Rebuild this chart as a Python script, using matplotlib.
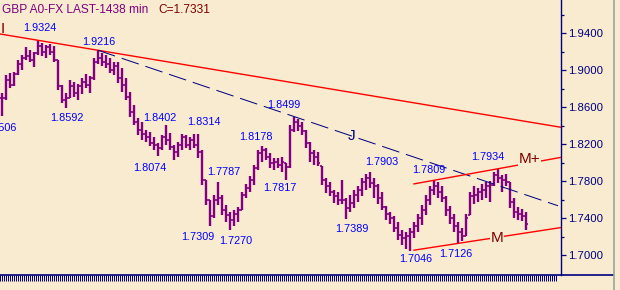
import matplotlib
matplotlib.use("Agg")
import matplotlib.pyplot as plt
import numpy as np
from matplotlib.ticker import FixedLocator, FormatStrFormatter, NullLocator
from matplotlib.lines import Line2D

plt.rcParams['font.family'] = ['Liberation Sans', 'DejaVu Sans']

BG = '#F8EBD0'
PURPLE = '#800080'
NAVY = '#000080'
BLUE = '#0000FF'
RED = '#FF0000'
DARKRED = '#800000'

# 1438-min GBP bars (high / low / close)
highs = [1.875, 1.895, 1.897, 1.898, 1.911, 1.916, 1.925, 1.922, 1.920, 1.9324,
         1.930, 1.927, 1.928, 1.926, 1.911, 1.884, 1.875, 1.889, 1.887, 1.885,
         1.892, 1.896, 1.894, 1.913, 1.9216, 1.919, 1.916, 1.913, 1.909, 1.909,
         1.902, 1.892, 1.876, 1.862, 1.848, 1.844, 1.835, 1.833, 1.828, 1.821,
         1.830, 1.8402, 1.832, 1.819, 1.822, 1.831, 1.830, 1.828, 1.831, 1.8314,
         1.814, 1.781, 1.760, 1.765, 1.7787, 1.765, 1.754, 1.747, 1.749, 1.752,
         1.768, 1.777, 1.786, 1.797, 1.814, 1.8178, 1.816, 1.810, 1.805, 1.805,
         1.806, 1.800, 1.841, 1.8499, 1.847, 1.844, 1.835, 1.822, 1.814, 1.811,
         1.796, 1.783, 1.779, 1.770, 1.768, 1.781, 1.762, 1.765, 1.770, 1.775,
         1.783, 1.788, 1.7903, 1.783, 1.777, 1.768, 1.753, 1.747, 1.742, 1.736,
         1.727, 1.725, 1.729, 1.736, 1.744, 1.754, 1.765, 1.775, 1.7809, 1.779,
         1.775, 1.764, 1.753, 1.744, 1.736, 1.729, 1.744, 1.768, 1.775, 1.773,
         1.777, 1.779, 1.780, 1.790, 1.7934, 1.787, 1.788, 1.779, 1.762, 1.752,
         1.750, 1.747]

lows = [1.8506, 1.868, 1.881, 1.883, 1.895, 1.900, 1.911, 1.909, 1.903, 1.916,
        1.915, 1.913, 1.916, 1.909, 1.879, 1.865, 1.8592, 1.870, 1.871, 1.868,
        1.874, 1.881, 1.875, 1.889, 1.907, 1.905, 1.902, 1.897, 1.895, 1.886,
        1.876, 1.868, 1.849, 1.841, 1.830, 1.824, 1.822, 1.818, 1.814, 1.8074,
        1.814, 1.819, 1.814, 1.803, 1.806, 1.814, 1.816, 1.814, 1.816, 1.805,
        1.776, 1.754, 1.7309, 1.740, 1.754, 1.743, 1.736, 1.7270, 1.731, 1.736,
        1.749, 1.762, 1.768, 1.776, 1.792, 1.801, 1.803, 1.794, 1.792, 1.794,
        1.790, 1.7817, 1.794, 1.833, 1.834, 1.830, 1.816, 1.801, 1.797, 1.796,
        1.776, 1.767, 1.764, 1.756, 1.754, 1.755, 1.7389, 1.747, 1.751, 1.757,
        1.764, 1.770, 1.773, 1.762, 1.755, 1.749, 1.738, 1.734, 1.725, 1.716,
        1.711, 1.707, 1.7046, 1.718, 1.725, 1.732, 1.743, 1.754, 1.765, 1.762,
        1.757, 1.742, 1.734, 1.725, 1.7126, 1.715, 1.721, 1.743, 1.755, 1.757,
        1.760, 1.762, 1.757, 1.775, 1.778, 1.768, 1.775, 1.751, 1.740, 1.738,
        1.737, 1.727]

closes = [1.870, 1.889, 1.884, 1.896, 1.907, 1.913, 1.915, 1.911, 1.919, 1.926,
          1.920, 1.925, 1.920, 1.911, 1.883, 1.868, 1.870, 1.883, 1.875, 1.883,
          1.887, 1.884, 1.892, 1.909, 1.913, 1.909, 1.907, 1.900, 1.905, 1.892,
          1.884, 1.871, 1.855, 1.844, 1.835, 1.831, 1.828, 1.821, 1.819, 1.816,
          1.828, 1.824, 1.817, 1.811, 1.819, 1.828, 1.819, 1.824, 1.819, 1.811,
          1.781, 1.760, 1.742, 1.760, 1.762, 1.749, 1.743, 1.738, 1.744, 1.749,
          1.765, 1.773, 1.781, 1.794, 1.810, 1.814, 1.806, 1.800, 1.801, 1.797,
          1.801, 1.795, 1.835, 1.844, 1.840, 1.834, 1.821, 1.810, 1.806, 1.800,
          1.781, 1.775, 1.768, 1.764, 1.760, 1.760, 1.751, 1.756, 1.765, 1.770,
          1.779, 1.783, 1.778, 1.775, 1.762, 1.752, 1.744, 1.740, 1.729, 1.722,
          1.718, 1.721, 1.725, 1.731, 1.740, 1.749, 1.760, 1.770, 1.775, 1.768,
          1.762, 1.749, 1.740, 1.731, 1.725, 1.721, 1.740, 1.764, 1.765, 1.768,
          1.770, 1.775, 1.776, 1.787, 1.783, 1.781, 1.779, 1.757, 1.747, 1.744,
          1.742, 1.7331]

# swing labels: value text and where it sits (bar index, price)
swing_text = ['1.8506', '1.9324', '1.8592', '1.9216', '1.8402', '1.8074', '1.8314',
              '1.7309', '1.7787', '1.7270', '1.8178', '1.7817', '1.8499', '1.7389',
              '1.7903', '1.7046', '1.7809', '1.7126', '1.7934']
swing_x = [-0.6, 9.4, 16.1, 24.1, 39.5, 36.9, 50.5, 49.0, 55.5, 58.5, 63.5,
           69.4, 70.5, 87.5, 94.9, 103.4, 106.6, 113.4, 121.5]
swing_y = [1.8375, 1.9457, 1.8483, 1.9305, 1.8483, 1.7942, 1.8440, 1.7195,
           1.7898, 1.7152, 1.8277, 1.7725, 1.8624, 1.7282, 1.8007, 1.6957,
           1.7920, 1.7011, 1.8061]

# trend lines through two swing points
line_I = [(9, 1.9324), (24, 1.9216)]
line_J = [(24, 1.9216), (73, 1.8499)]
line_Mp = [(108, 1.7809), (124, 1.7934)]
line_M = [(102, 1.7046), (114, 1.7126)]

y_major = [1.70, 1.74, 1.78, 1.82, 1.86, 1.90, 1.94]
y_minor = [1.72, 1.76, 1.80, 1.84, 1.88, 1.92, 1.96]


def extend(pts, x0, x1):
    (xa, ya), (xb, yb) = pts
    k = (yb - ya) / (xb - xa)
    return [x0, x1], [ya + k * (x0 - xa), ya + k * (x1 - xa)]


fig = plt.figure(figsize=(6.2, 2.9), dpi=100)
fig.patch.set_facecolor(BG)
ax = fig.add_axes([0, 15 / 290, 561 / 620, 275 / 290])
ax.set_facecolor(BG)

x = np.arange(len(highs))
hi = np.array(highs)
lo = np.array(lows)
cl = np.array(closes)
op = np.clip(np.r_[cl[0], cl[:-1]], lo, hi)

ax.vlines(x, lo, hi, color=PURPLE, lw=1.7, zorder=2)
ax.hlines(op, x - 0.6, x, color=PURPLE, lw=1.2, zorder=2)
ax.hlines(cl, x, x + 0.6, color=PURPLE, lw=1.2, zorder=2)

XL, XR = -0.5, 139.75
lx, ly = extend(line_I, XL, XR)
ax.plot(lx, ly, color=RED, lw=1.0, zorder=3)
lx, ly = extend(line_J, 24, 139)
ax.plot(lx, ly, color=NAVY, lw=0.72, ls=(0, (18, 7)), zorder=3)
lx, ly = extend(line_Mp, 103, XR)
ax.plot(lx, ly, color=RED, lw=1.0, zorder=3)
lx, ly = extend(line_M, 103, XR)
ax.plot(lx, ly, color=RED, lw=1.0, zorder=3)

for s, tx, ty in zip(swing_text, swing_x, swing_y):
    ax.text(tx, ty, s, color=BLUE, fontsize=7.8, ha='center', va='center', zorder=4)

box = dict(facecolor=BG, edgecolor='none', pad=0.5)
ax.text(0.25, 1.9446, 'I', color=DARKRED, fontsize=11, ha='center', va='center', zorder=4)
ax.text(87.3, 1.8288, 'J', color=NAVY, fontsize=11, ha='center', va='center', zorder=4)
ax.text(131.8, 1.8040, 'M+', color=DARKRED, fontsize=11, ha='center', va='center', bbox=box, zorder=4)
ax.text(123.7, 1.7185, 'M', color=DARKRED, fontsize=11, ha='center', va='center', bbox=box, zorder=4)

ax.set_xlim(XL, XR)
ax.set_ylim(1.6784, 1.9760)

ax.yaxis.tick_right()
ax.yaxis.set_major_locator(FixedLocator(y_major))
ax.yaxis.set_minor_locator(FixedLocator(y_minor))
ax.yaxis.set_major_formatter(FormatStrFormatter('%.4f'))
ax.tick_params(axis='y', which='major', direction='out', length=3.6, width=0.9,
               colors=NAVY, labelsize=8.2, pad=1.5)
ax.tick_params(axis='y', which='minor', direction='out', length=2.4, width=0.9, colors=NAVY)

ax.xaxis.set_major_locator(NullLocator())
ax.xaxis.set_minor_locator(FixedLocator(np.arange(-0.5, 139.0, 0.5)))
ax.tick_params(axis='x', which='minor', direction='out', length=4.6, width=0.72, colors=NAVY)

for side in ('left', 'top', 'bottom'):
    ax.spines[side].set_visible(False)
ax.spines['right'].set_color(NAVY)
ax.spines['right'].set_linewidth(1.0)

fig.add_artist(Line2D([0, 613 / 620], [15 / 290, 15 / 290], color=NAVY, lw=1.2))
fig.add_artist(Line2D([613.5 / 620, 613.5 / 620], [0, 1], color='#A0A0A0', lw=1.2))

fig.text(2 / 620, 1 - 10 / 290, 'GBP A0-FX LAST-1438 min', color=PURPLE,
         fontsize=8.6, ha='left', va='center')
fig.text(158 / 620, 1 - 10 / 290, 'C=1.7331', color=DARKRED,
         fontsize=8.6, ha='left', va='center')

fig.savefig('out.png', dpi=100, facecolor=BG)
